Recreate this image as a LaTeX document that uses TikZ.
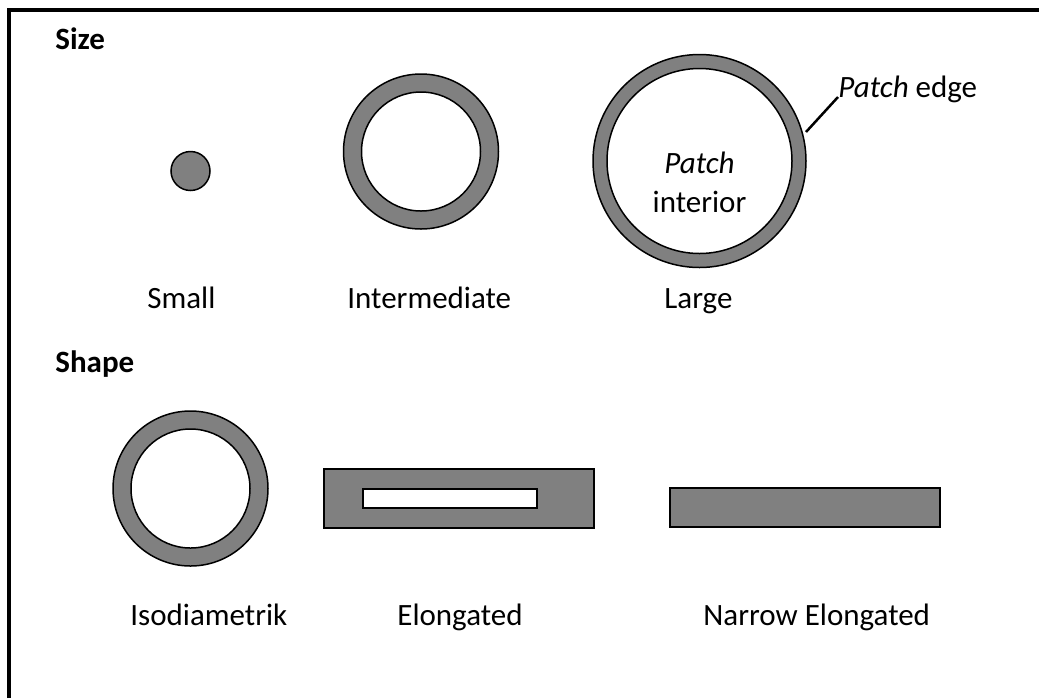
\documentclass[tikz,border=0pt]{standalone}
\usepackage{fontspec}
\setmainfont{Carlito}
\usetikzlibrary{positioning}

\tikzset{
	patch/.style={draw=black, fill=gray, line width=0.75pt},
	hole/.style={draw=black, fill=white, line width=0.75pt},
	lbl/.style={anchor=base west, inner sep=0pt},
}

\begin{document}
\begin{tikzpicture}[x=0.5pt, y=-0.5pt, font=\fontsize{15.5}{19}\selectfont]
		\useasboundingbox (0, 0) rectangle (1039, 698);
		% frame
		\draw[line width=2pt] (9, 698) -- (9, 10) -- (1039, 10);
		\node[lbl, font=\fontsize{15.5}{19}\selectfont\bfseries] (size) at (55, 49) {Size};
		\node[lbl, font=\fontsize{15.5}{19}\selectfont\bfseries] (shape) at (55, 372) {Shape};
		% size row
		\filldraw[patch] (190.5, 171) circle (19.5);
		\filldraw[patch] (421, 151.5) circle (77.5);
		\filldraw[hole] (421, 151.5) circle (59.5);
		\filldraw[patch] (699.5, 161) circle (106.5);
		\filldraw[hole] (699.5, 161) circle (92.5);
		\node[anchor=base, inner sep=0pt] (pint1) at (699.5, 173) {\textit{Patch}};
		\node[anchor=base, inner sep=0pt] (pint2) at (699.5, 212) {interior};
		\node[lbl] (edgelbl) at (838, 97) {\textit{Patch} edge};
		\coordinate (ringpt) at (806, 132);
		\draw[line width=1.25pt] (ringpt) -- (edgelbl.base west);
		\node[lbl] (small) at (147, 308) {Small};
		\node[lbl] (inter) at (347, 308) {Intermediate};
		\node[lbl] (large) at (664, 308) {Large};
		% shape row
		\filldraw[patch] (190.5, 488.5) circle (77.5);
		\filldraw[hole] (190.5, 488.5) circle (59.5);
		\filldraw[patch] (324, 469) rectangle (594, 528);
		\filldraw[hole] (363, 489) rectangle (537, 508);
		\filldraw[patch, line width=1pt] (670, 488) rectangle (940, 527);
		\node[lbl] (iso) at (130, 625) {Isodiametrik};
		\node[lbl] (elong) at (397, 625) {Elongated};
		\node[lbl] (narrow) at (703, 625) {Narrow Elongated};
	\end{tikzpicture}
\end{document}
